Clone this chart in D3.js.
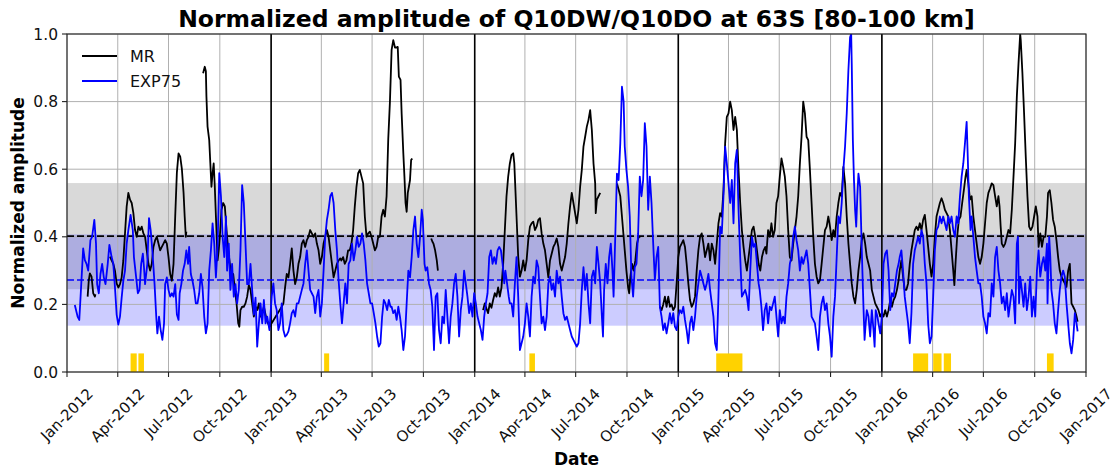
<!DOCTYPE html>
<html><head><meta charset="utf-8">
<script src="https://cdn.jsdelivr.net/npm/d3@7"></script>
<style>body{margin:0;background:#fff;} svg{font-family:"DejaVu Sans",sans-serif;}</style>
</head><body><svg id="chart" width="1120" height="470"></svg>
<script>
const titleText = "Normalized amplitude of Q10DW/Q10DO at 63S [80-100 km]";
const yLabelText = "Normalized amplitude";
const xLabelText = "Date";
const seriesNames = ["MR", "EXP75"];
const startDate = "2012-01-01";
const endDate = "2017-01-01";
const yTicks = [0, 0.2, 0.4, 0.6, 0.8, 1.0];
const mrMean = 0.402, mrStd = 0.157;
const expMean = 0.272, expStd = 0.135;
const eventStart = ["2012-04-24","2012-05-08","2013-04-06","2014-04-09","2015-03-10","2016-02-26","2016-04-02","2016-04-21","2016-10-23"];
const eventEnd   = ["2012-05-05","2012-05-18","2013-04-15","2014-04-19","2015-04-26","2016-03-24","2016-04-17","2016-05-04","2016-11-04"];
const eventHeight = 0.055;

// [days since startDate, normalized amplitude]; null marks a data gap
const mrPoints = [
[37,0.223],[39,0.27],[41,0.292],[44,0.282],[47,0.233],[50,0.223],[51,0.23],[60,null],
[77,0.341],[80,0.33],[83,0.32],[86,0.30],[89,0.262],[92,0.25],[95,0.26],[98,0.28],[101,0.33],[104,0.41],[107,0.49],[110,0.53],[113,0.51],[116,0.50],[119,0.47],[122,0.42],[125,0.40],[128,0.43],[131,0.42],[134,0.43],[137,0.41],[140,0.40],[143,0.36],[146,0.32],[149,0.30],[152,0.32],[155,0.37],[158,0.39],[161,0.40],[164,0.38],[167,0.36],[170,0.37],[173,0.38],[176,0.39],[179,0.38],[182,0.34],[185,0.29],[188,0.27],[191,0.32],[194,0.46],[197,0.59],[200,0.647],[203,0.637],[206,0.60],[209,0.53],[211,0.46],[213,0.40],[214,0.415],[230,null],
[244,0.884],[247,0.903],[249,0.89],[250,0.815],[252,0.726],[255,0.686],[257,0.617],[259,0.548],[261,0.588],[263,0.617],[265,0.548],[267,0.46],[270,0.33],[272,0.36],[274,0.40],[277,0.48],[280,0.50],[283,0.49],[286,0.42],[289,0.36],[292,0.32],[295,0.28],[298,0.29],[301,0.243],[304,0.203],[307,0.144],[309,0.134],[311,0.183],[314,0.193],[317,0.193],[320,0.203],[323,0.223],[326,0.257],[329,0.243],[332,0.203],[335,0.164],[338,0.193],[341,0.183],[344,0.203],[347,0.164],[350,0.174],[353,0.193],[358,0.154],[363,0.134],
[385,0.193],[388,0.203],[391,0.25],[394,0.29],[397,0.28],[400,0.32],[403,0.366],[406,0.30],[409,0.26],[412,0.28],[415,0.32],[418,0.34],[421,0.38],[424,0.39],[427,0.37],[430,0.39],[433,0.40],[436,0.42],[439,0.41],[442,0.40],[445,0.41],[448,0.38],[451,0.36],[454,0.32],[457,0.34],[460,0.38],[463,0.40],[466,0.42],[469,0.40],[472,0.36],[475,0.32],[478,0.28],[481,0.30],[484,0.32],[487,0.33],[490,0.336],[492,0.33],[495,0.34],[498,0.32],[501,0.33],[504,0.36],[507,0.36],[510,0.38],[513,0.42],[516,0.49],[519,0.548],[522,0.588],[525,0.598],[528,0.578],[531,0.558],[534,0.46],[537,0.40],[540,0.41],[543,0.415],[546,0.40],[549,0.38],[552,0.36],[555,0.37],[558,0.40],[561,0.40],[564,0.46],[567,0.48],[570,0.46],[573,0.52],[576,0.69],[579,0.80],[582,0.953],[585,0.982],[588,0.96],[591,0.96],[593,0.962],[595,0.874],[598,0.864],[600,0.765],[603,0.647],[605,0.578],[607,0.50],[609,0.474],[611,0.53],[613,0.548],[615,0.568],[617,0.627],[619,0.632],[635,null],
[653,0.395],[655,0.386],[657,0.38],[660,0.36],[663,0.33],[665,0.30],[700,null],
[746,0.183],[749,0.203],[752,0.188],[755,0.174],[758,0.203],[761,0.19],[764,0.213],[767,0.233],[770,0.223],[773,0.25],[776,0.223],[779,0.25],[782,0.32],[785,0.42],[788,0.52],[791,0.578],[794,0.617],[797,0.642],[800,0.647],[802,0.617],[804,0.538],[807,0.42],[809,0.34],[812,0.282],[815,0.30],[818,0.33],[821,0.30],[824,0.33],[827,0.39],[830,0.43],[833,0.44],[836,0.445],[839,0.42],[842,0.43],[845,0.45],[848,0.455],[851,0.41],[854,0.38],[857,0.36],[860,0.32],[863,0.28],[866,0.33],[869,0.35],[872,0.37],[875,0.38],[878,0.395],[881,0.37],[884,0.32],[887,0.30],[890,0.32],[893,0.34],[896,0.38],[899,0.44],[902,0.49],[905,0.53],[908,0.50],[911,0.47],[914,0.44],[917,0.48],[920,0.548],[923,0.598],[926,0.667],[929,0.696],[932,0.726],[935,0.746],[938,0.775],[941,0.716],[944,0.617],[947,0.558],[948,0.47],[950,0.51],[953,0.52],[956,0.53],[970,null],
[986,0.558],[989,0.54],[992,0.52],[995,0.46],[998,0.40],[1000,0.36],[1003,0.30],[1006,0.25],[1008,0.233],[1010,0.28],[1013,0.32],[1016,0.30],[1019,0.33],[1022,0.38],[1025,0.40],[1028,0.40],[1045,null],
[1063,0.193],[1066,0.183],[1069,0.20],[1072,0.223],[1075,0.193],[1078,0.223],[1081,0.193],[1084,0.20],[1087,0.183],[1090,0.193],[1093,0.262],[1096,0.34],[1099,0.37],[1102,0.38],[1105,0.39],[1108,0.37],[1111,0.32],[1114,0.262],[1117,0.213],[1120,0.193],[1123,0.203],[1126,0.223],[1129,0.30],[1132,0.36],[1135,0.40],[1138,0.41],[1141,0.38],[1144,0.34],[1147,0.36],[1150,0.38],[1153,0.33],[1156,0.38],[1159,0.36],[1162,0.32],[1165,0.38],[1168,0.44],[1171,0.47],[1174,0.46],[1177,0.538],[1180,0.677],[1183,0.755],[1186,0.765],[1189,0.80],[1192,0.775],[1195,0.716],[1198,0.755],[1201,0.716],[1204,0.598],[1207,0.50],[1210,0.42],[1213,0.37],[1216,0.33],[1219,0.30],[1222,0.34],[1225,0.38],[1228,0.42],[1231,0.43],[1234,0.40],[1237,0.36],[1240,0.32],[1243,0.30],[1246,0.34],[1249,0.36],[1252,0.37],[1254,0.35],[1257,0.42],[1260,0.40],[1263,0.44],[1266,0.40],[1269,0.42],[1272,0.50],[1275,0.52],[1278,0.578],[1281,0.632],[1284,0.607],[1287,0.578],[1290,0.52],[1293,0.42],[1296,0.34],[1299,0.33],[1302,0.38],[1305,0.42],[1308,0.46],[1311,0.52],[1314,0.617],[1317,0.696],[1320,0.80],[1323,0.765],[1326,0.696],[1329,0.686],[1332,0.598],[1335,0.50],[1338,0.40],[1341,0.32],[1344,0.282],[1347,0.262],[1350,0.272],[1353,0.32],[1356,0.37],[1359,0.42],[1362,0.43],[1365,0.46],[1368,0.43],[1371,0.39],[1374,0.42],[1377,0.40],[1380,0.46],[1383,0.50],[1386,0.53],[1389,0.52],[1392,0.607],[1395,0.558],[1398,0.46],[1401,0.38],[1404,0.32],[1407,0.262],[1410,0.223],[1413,0.203],[1416,0.243],[1419,0.30],[1422,0.34],[1425,0.39],[1428,0.41],[1431,0.38],[1434,0.34],[1437,0.32],[1440,0.30],[1443,0.243],[1446,0.223],[1449,0.203],[1452,0.193],[1455,0.183],[1458,0.164],[1461,0.174],[1464,0.164],[1467,0.183],[1470,0.164],[1473,0.183],[1476,0.213],[1479,0.193],[1482,0.213],[1485,0.223],[1488,0.243],[1491,0.272],[1493,0.30],[1496,0.33],[1499,0.282],[1502,0.243],[1505,0.243],[1508,0.262],[1511,0.32],[1514,0.36],[1517,0.39],[1520,0.42],[1523,0.43],[1526,0.42],[1529,0.44],[1532,0.42],[1535,0.45],[1538,0.465],[1541,0.42],[1544,0.37],[1547,0.32],[1550,0.282],[1553,0.32],[1556,0.40],[1559,0.46],[1562,0.48],[1565,0.50],[1568,0.514],[1571,0.50],[1574,0.48],[1577,0.47],[1580,0.46],[1583,0.42],[1586,0.36],[1589,0.30],[1591,0.257],[1593,0.32],[1596,0.40],[1599,0.45],[1602,0.46],[1605,0.50],[1608,0.538],[1611,0.578],[1613,0.598],[1616,0.558],[1619,0.51],[1622,0.52],[1625,0.46],[1628,0.42],[1631,0.38],[1634,0.34],[1637,0.32],[1640,0.34],[1643,0.38],[1646,0.44],[1649,0.50],[1652,0.53],[1655,0.543],[1658,0.558],[1661,0.553],[1664,0.52],[1667,0.49],[1670,0.52],[1672,0.49],[1674,0.43],[1676,0.38],[1679,0.37],[1682,0.38],[1685,0.40],[1688,0.42],[1691,0.41],[1694,0.48],[1697,0.578],[1700,0.677],[1703,0.815],[1706,0.913],[1709,1.0],[1710,0.982],[1713,0.884],[1716,0.765],[1719,0.637],[1722,0.52],[1725,0.43],[1728,0.42],[1731,0.43],[1734,0.46],[1737,0.49],[1740,0.46],[1742,0.37],[1745,0.41],[1748,0.37],[1751,0.40],[1754,0.40],[1757,0.46],[1759,0.53],[1762,0.538],[1765,0.50],[1768,0.45],[1771,0.43],[1774,0.39],[1777,0.34],[1780,0.30],[1783,0.282],[1786,0.272],[1789,0.262],[1792,0.252],[1795,0.30],[1798,0.32],[1801,0.203],[1804,0.193],[1807,0.183],[1810,0.164],[1812,0.149]
];

const expPoints = [
[14,0.198],[19,0.164],[22,0.154],[25,0.243],[29,0.366],[32,0.331],[35,0.32],[38,0.30],[42,0.39],[45,0.40],[49,0.45],[52,0.38],[54,0.26],[57,0.233],[60,0.29],[63,0.32],[66,0.28],[69,0.26],[73,0.32],[76,0.376],[80,0.34],[83,0.32],[86,0.25],[89,0.17],[92,0.14],[95,0.164],[98,0.22],[101,0.27],[104,0.30],[107,0.38],[110,0.42],[114,0.465],[118,0.42],[120,0.34],[124,0.28],[127,0.233],[130,0.243],[133,0.32],[136,0.35],[138,0.31],[140,0.26],[144,0.32],[147,0.455],[150,0.42],[153,0.36],[157,0.26],[160,0.164],[162,0.114],[165,0.164],[168,0.124],[171,0.095],[174,0.144],[176,0.26],[179,0.28],[182,0.243],[185,0.223],[188,0.233],[191,0.223],[194,0.26],[197,0.17],[200,0.154],[202,0.233],[205,0.26],[208,0.30],[211,0.32],[214,0.36],[217,0.32],[219,0.37],[222,0.29],[225,0.27],[228,0.243],[231,0.203],[234,0.203],[237,0.233],[240,0.29],[243,0.25],[246,0.164],[249,0.114],[252,0.144],[255,0.30],[258,0.36],[261,0.44],[264,0.38],[267,0.28],[270,0.37],[273,0.588],[276,0.52],[279,0.40],[282,0.34],[285,0.46],[287,0.30],[290,0.38],[293,0.243],[296,0.32],[299,0.223],[302,0.26],[305,0.203],[308,0.243],[311,0.36],[314,0.553],[317,0.50],[320,0.38],[323,0.26],[326,0.26],[329,0.32],[332,0.243],[335,0.17],[338,0.22],[341,0.075],[344,0.144],[347,0.203],[350,0.144],[353,0.213],[356,0.144],[359,0.164],[363,0.124],
[367,0.223],[370,0.262],[373,0.203],[376,0.183],[379,0.124],[382,0.144],[385,0.203],[388,0.124],[391,0.105],[394,0.11],[397,0.12],[400,0.144],[403,0.174],[406,0.183],[409,0.164],[412,0.203],[415,0.203],[418,0.223],[421,0.243],[424,0.262],[427,0.32],[430,0.36],[433,0.30],[436,0.243],[439,0.233],[442,0.223],[445,0.174],[448,0.223],[451,0.243],[454,0.164],[457,0.203],[460,0.30],[463,0.40],[466,0.45],[469,0.48],[472,0.52],[475,0.53],[478,0.50],[481,0.42],[484,0.36],[487,0.27],[490,0.203],[493,0.144],[496,0.203],[499,0.262],[502,0.203],[505,0.32],[508,0.33],[511,0.38],[514,0.33],[517,0.36],[520,0.40],[523,0.37],[526,0.38],[529,0.41],[532,0.38],[535,0.33],[538,0.262],[541,0.233],[544,0.203],[547,0.203],[550,0.174],[553,0.144],[556,0.105],[559,0.075],[562,0.085],[565,0.164],[568,0.213],[571,0.203],[574,0.183],[577,0.213],[580,0.193],
[582,0.193],[585,0.174],[588,0.183],[591,0.154],[594,0.193],[597,0.164],[600,0.124],[603,0.065],[606,0.105],[609,0.203],[612,0.30],[615,0.28],[618,0.34],[621,0.42],[624,0.46],[627,0.38],[630,0.34],[633,0.40],[636,0.48],[638,0.45],[641,0.32],[643,0.30],[646,0.31],[649,0.262],[652,0.243],[655,0.193],[658,0.065],[661,0.223],[664,0.233],[667,0.124],[670,0.085],[673,0.164],[676,0.144],[679,0.243],[682,0.164],[685,0.085],[688,0.164],[691,0.203],[694,0.262],[697,0.29],[700,0.223],[703,0.105],[706,0.183],[709,0.223],[712,0.30],[715,0.262],[718,0.223],[721,0.174],[724,0.203],[727,0.164],[730,0.233],[733,0.203],[736,0.164],[739,0.144],[742,0.124],[745,0.095],[748,0.164],[751,0.203],[754,0.233],[757,0.34],[760,0.36],[763,0.32],[766,0.34],[769,0.32],[772,0.36],[775,0.37],[778,0.36],[781,0.32],[784,0.262],[786,0.30],[789,0.262],[792,0.223],[794,0.203],
[797,0.203],[800,0.164],[803,0.262],[806,0.34],[809,0.223],[812,0.065],[815,0.085],[818,0.105],[821,0.144],[824,0.203],[827,0.164],[830,0.105],[833,0.223],[836,0.282],[839,0.262],[842,0.33],[845,0.31],[848,0.223],[851,0.144],[854,0.164],[857,0.124],[860,0.164],[863,0.262],[866,0.282],[869,0.243],[872,0.262],[875,0.223],[878,0.30],[881,0.262],[884,0.282],[887,0.223],[890,0.174],[893,0.154],[896,0.164],[899,0.144],[902,0.124],[905,0.105],[908,0.095],[911,0.085],[914,0.075],[917,0.085],[920,0.144],[923,0.243],[926,0.31],[929,0.243],[932,0.29],[935,0.203],[938,0.144],[941,0.282],[944,0.30],[947,0.262],[950,0.37],[953,0.32],[956,0.262],[959,0.164],[961,0.105],[963,0.243],[966,0.32],[969,0.262],[972,0.34],[975,0.38],[978,0.30],[980,0.223],[983,0.40],[986,0.587],[989,0.568],[992,0.677],[995,0.844],[998,0.80],[1000,0.667],
[1003,0.598],[1006,0.548],[1009,0.46],[1012,0.282],[1015,0.223],[1018,0.31],[1021,0.32],[1024,0.41],[1027,0.578],[1030,0.52],[1033,0.568],[1036,0.736],[1039,0.667],[1042,0.48],[1045,0.578],[1048,0.50],[1051,0.38],[1054,0.272],[1057,0.34],[1060,0.37],[1063,0.193],[1066,0.164],[1069,0.124],[1072,0.144],[1075,0.114],[1078,0.144],[1081,0.174],[1084,0.144],[1087,0.174],[1090,0.134],[1093,0.124],[1096,0.164],[1099,0.183],[1102,0.174],[1105,0.193],[1108,0.154],[1111,0.124],[1114,0.085],[1117,0.144],[1120,0.164],[1123,0.124],[1126,0.164],[1129,0.223],[1132,0.262],[1135,0.30],[1138,0.282],[1141,0.262],[1144,0.243],[1147,0.262],[1150,0.29],[1153,0.243],[1156,0.203],[1159,0.164],[1162,0.085],[1165,0.065],[1168,0.223],[1171,0.43],[1174,0.41],[1177,0.52],[1180,0.667],[1183,0.617],[1186,0.558],[1189,0.50],[1192,0.568],[1195,0.44],[1198,0.617],[1201,0.657],[1204,0.48],[1207,0.34],[1210,0.223],[1213,0.233],[1216,0.243],[1219,0.223],[1222,0.183],[1225,0.30],
[1228,0.40],[1231,0.37],[1234,0.38],[1237,0.32],[1240,0.262],[1242,0.243],[1245,0.193],[1248,0.124],[1251,0.183],[1254,0.203],[1257,0.144],[1260,0.193],[1263,0.183],[1266,0.203],[1269,0.223],[1272,0.164],[1275,0.105],[1278,0.183],[1281,0.144],[1284,0.164],[1287,0.144],[1290,0.223],[1293,0.262],[1296,0.32],[1299,0.34],[1302,0.40],[1305,0.43],[1308,0.39],[1311,0.36],[1314,0.30],[1317,0.34],[1320,0.32],[1323,0.34],[1326,0.36],[1329,0.32],[1332,0.243],[1335,0.164],[1338,0.154],[1341,0.144],[1344,0.105],[1347,0.065],[1350,0.164],[1353,0.203],[1356,0.223],[1359,0.183],[1362,0.203],[1365,0.144],[1368,0.105],[1371,0.045],[1374,0.164],[1377,0.223],[1380,0.34],[1383,0.46],[1386,0.44],[1389,0.50],[1392,0.598],[1395,0.667],[1398,0.765],[1401,0.893],[1404,0.99],[1406,1.0],[1407,0.913],[1409,0.686],[1411,0.568],[1413,0.48],[1415,0.43],[1417,0.52],[1419,0.587],[1422,0.548],[1425,0.36],[1428,0.193],[1430,0.095],[1432,0.144],[1434,0.183],[1437,0.164],[1440,0.105],
[1443,0.183],[1446,0.124],[1448,0.075],[1450,0.183],[1453,0.164],[1455,0.144],[1458,0.114],[1461,0.164],[1464,0.32],[1467,0.35],[1470,0.36],[1473,0.30],[1476,0.183],[1479,0.233],[1482,0.223],[1485,0.262],[1488,0.30],[1491,0.32],[1493,0.34],[1496,0.36],[1499,0.30],[1502,0.223],[1505,0.183],[1508,0.144],[1511,0.085],[1514,0.174],[1517,0.32],[1520,0.36],[1523,0.38],[1526,0.40],[1529,0.38],[1532,0.42],[1535,0.40],[1538,0.32],[1541,0.262],[1544,0.144],[1547,0.085],[1550,0.105],[1553,0.223],[1556,0.36],[1559,0.42],[1562,0.43],[1565,0.46],[1568,0.44],[1571,0.46],[1574,0.44],[1577,0.42],[1580,0.46],[1583,0.44],[1586,0.46],[1589,0.42],[1592,0.40],[1595,0.46],[1598,0.44],[1601,0.52],[1604,0.578],[1607,0.617],[1610,0.677],[1613,0.74],[1615,0.637],[1617,0.52],[1620,0.42],[1622,0.46],[1625,0.40],[1628,0.34],[1631,0.30],[1634,0.262],[1637,0.262],[1640,0.223],[1643,0.164],[1646,0.144],[1649,0.114],[1652,0.174],[1655,0.164],
[1658,0.262],[1661,0.223],[1664,0.34],[1667,0.37],[1670,0.30],[1673,0.262],[1676,0.203],[1679,0.223],[1682,0.183],[1685,0.233],[1688,0.164],[1691,0.203],[1694,0.243],[1697,0.223],[1700,0.144],[1703,0.38],[1705,0.40],[1707,0.203],[1709,0.282],[1712,0.243],[1715,0.193],[1718,0.262],[1721,0.183],[1724,0.223],[1727,0.282],[1730,0.164],[1733,0.223],[1736,0.164],[1739,0.30],[1742,0.36],[1745,0.282],[1748,0.32],[1751,0.34],[1754,0.30],[1757,0.38],[1758,0.203],[1761,0.40],[1763,0.34],[1765,0.243],[1768,0.203],[1771,0.144],[1774,0.114],[1777,0.183],[1780,0.243],[1783,0.282],[1786,0.30],[1789,0.282],[1792,0.203],[1795,0.144],[1798,0.085],[1801,0.055],[1804,0.095],[1807,0.174],[1810,0.144],[1812,0.12]
];

// ---------- drawing ----------
const W = 1120, H = 470;
const margin = {left: 67, right: 34, top: 34, bottom: 98};
const svg = d3.select("#chart");
const t0 = new Date(startDate), t1 = new Date(endDate);
const x = d3.scaleUtc().domain([t0, t1]).range([margin.left, W - margin.right]);
const y = d3.scaleLinear().domain([0, 1]).range([H - margin.bottom, margin.top]);
const toDate = d => d3.utcDay.offset(t0, d);
const x0 = x.range()[0], x1 = x.range()[1], yb = y.range()[0], yt = y.range()[1];

svg.append("defs").append("clipPath").attr("id", "plotclip")
  .append("rect").attr("x", x0).attr("y", yt).attr("width", x1 - x0).attr("height", yb - yt);

// std bands
svg.append("rect").attr("x", x0).attr("width", x1 - x0)
  .attr("y", y(mrMean + mrStd)).attr("height", y(mrMean - mrStd) - y(mrMean + mrStd))
  .attr("fill", "#808080").attr("fill-opacity", 0.3);
svg.append("rect").attr("x", x0).attr("width", x1 - x0)
  .attr("y", y(expMean + expStd)).attr("height", y(expMean - expStd) - y(expMean + expStd))
  .attr("fill", "#0000ff").attr("fill-opacity", 0.2);

// grid
const xTicks = x.ticks(d3.utcMonth.every(3));
svg.append("g").selectAll("line").data(xTicks).join("line")
  .attr("x1", d => x(d)).attr("x2", d => x(d)).attr("y1", yt).attr("y2", yb)
  .attr("stroke", "#b0b0b0").attr("stroke-width", 1);
svg.append("g").selectAll("line").data(yTicks).join("line")
  .attr("x1", x0).attr("x2", x1).attr("y1", d => y(d)).attr("y2", d => y(d))
  .attr("stroke", "#b0b0b0").attr("stroke-width", 1);

// year separators
const years = d3.utcYear.range(d3.utcYear.offset(t0, 1), t1);
svg.append("g").selectAll("line").data(years).join("line")
  .attr("x1", d => x(d)).attr("x2", d => x(d)).attr("y1", yt).attr("y2", yb)
  .attr("stroke", "#000").attr("stroke-width", 1.6);

// mean lines
svg.append("line").attr("x1", x0).attr("x2", x1).attr("y1", y(mrMean)).attr("y2", y(mrMean))
  .attr("stroke", "#000").attr("stroke-width", 1.6).attr("stroke-dasharray", "7,3");
svg.append("line").attr("x1", x0).attr("x2", x1).attr("y1", y(expMean)).attr("y2", y(expMean))
  .attr("stroke", "#0000ff").attr("stroke-width", 1.6).attr("stroke-dasharray", "7,3");

// event bars
svg.append("g").selectAll("rect").data(eventStart.map((s, i) => [new Date(s), new Date(eventEnd[i])])).join("rect")
  .attr("x", d => x(d[0])).attr("width", d => x(d[1]) - x(d[0]))
  .attr("y", y(eventHeight)).attr("height", y(0) - y(eventHeight))
  .attr("fill", "#ffd200");

// series
const line = d3.line().defined(d => d[1] != null)
  .x(d => x(toDate(d[0]))).y(d => y(d[1]));
const lg = svg.append("g").attr("clip-path", "url(#plotclip)");
lg.append("path").datum(mrPoints).attr("d", line).attr("fill", "none")
  .attr("stroke", "#000").attr("stroke-width", 1.8).attr("stroke-linejoin", "round");
lg.append("path").datum(expPoints).attr("d", line).attr("fill", "none")
  .attr("stroke", "#0000ff").attr("stroke-width", 1.8).attr("stroke-linejoin", "round");

// frame
svg.append("rect").attr("x", x0).attr("y", yt).attr("width", x1 - x0).attr("height", yb - yt)
  .attr("fill", "none").attr("stroke", "#222").attr("stroke-width", 1.1);

// ticks
const fmt = d3.utcFormat("%b-%Y");
svg.append("g").selectAll("line").data(xTicks).join("line")
  .attr("x1", d => x(d)).attr("x2", d => x(d)).attr("y1", yb).attr("y2", yb + 5)
  .attr("stroke", "#222").attr("stroke-width", 1.1);
const xfs = 15;
xTicks.forEach(t => {
  const tx = svg.append("text").text(fmt(t)).attr("font-size", xfs)
    .attr("text-anchor", "middle").attr("dominant-baseline", "central").attr("fill", "#111");
  const w = tx.node().getComputedTextLength();
  const bh = (w + xfs * 1.15) * Math.SQRT1_2;
  tx.attr("transform", `translate(${x(t)},${yb + 13 + bh / 2}) rotate(-45)`);
});
svg.append("g").selectAll("line").data(yTicks).join("line")
  .attr("x1", x0 - 5).attr("x2", x0).attr("y1", d => y(d)).attr("y2", d => y(d))
  .attr("stroke", "#222").attr("stroke-width", 1.1);
svg.append("g").selectAll("text").data(yTicks).join("text")
  .attr("x", x0 - 9).attr("y", d => y(d)).attr("dy", "0.36em")
  .attr("text-anchor", "end").attr("font-size", 15.5).attr("fill", "#111")
  .text(d => d.toFixed(1));

// labels
svg.append("text").attr("x", (x0 + x1) / 2).attr("y", 27).attr("text-anchor", "middle")
  .attr("font-size", 23.5).attr("font-weight", "bold").text(titleText);
svg.append("text").attr("x", (x0 + x1) / 2).attr("y", 465).attr("text-anchor", "middle")
  .attr("font-size", 17).attr("font-weight", "bold").text(xLabelText);
svg.append("text").attr("transform", `translate(24,${(yt + yb) / 2}) rotate(-90)`)
  .attr("text-anchor", "middle").attr("font-size", 17).attr("font-weight", "bold").text(yLabelText);

// legend
const legColors = ["#000", "#0000ff"];
seriesNames.forEach((n, i) => {
  const ly = 56 + i * 25;
  svg.append("line").attr("x1", 82).attr("x2", 117).attr("y1", ly).attr("y2", ly)
    .attr("stroke", legColors[i]).attr("stroke-width", 1.8);
  svg.append("text").attr("x", 130).attr("y", ly).attr("dy", "0.36em")
    .attr("font-size", 16).attr("fill", "#111").text(n);
});
</script>
</body></html>
